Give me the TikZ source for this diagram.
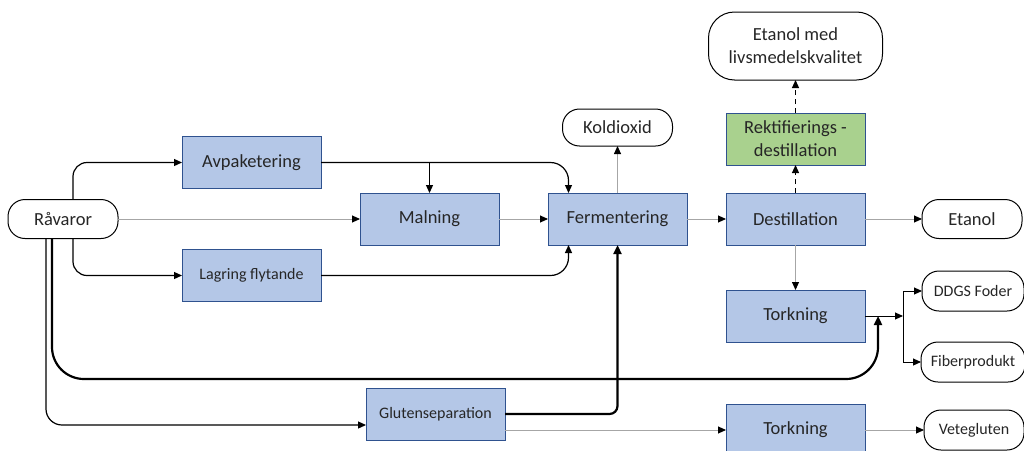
\documentclass[tikz,border=0pt]{standalone}
\usepackage{fontspec}
\setmainfont{Carlito}
\usetikzlibrary{positioning,arrows.meta}
\definecolor{ramblaa}{HTML}{2F528F}
\definecolor{fyllblaa}{HTML}{B4C7E7}
\definecolor{fyllgron}{HTML}{A9D18E}
\definecolor{ljusgra}{HTML}{A6A6A6}
\definecolor{textgra}{HTML}{262626}

\begin{document}
\begin{tikzpicture}[
  x=1pt, y=-1pt, font=\fontsize{18.5}{23}\selectfont, text=textgra,
  steg/.style={draw=ramblaa, fill=fyllblaa, line width=1pt, align=center,
               minimum width=139pt, minimum height=52pt, inner sep=2pt, outer sep=0pt},
  utfall/.style={draw=black, line width=1pt, rounded corners=17pt, align=center,
                 minimum height=39pt, inner sep=2pt, outer sep=0pt},
  liten/.style={font=\fontsize{16}{19}\selectfont},
  pil/.style={-{Triangle[length=8pt,width=7pt]}, line width=1.2pt},
  tunn/.style={-{Triangle[length=8pt,width=7pt,color=black]}, line width=0.9pt, ljusgra},
  tjock/.style={-{Triangle[length=9pt,width=8pt]}, line width=2.2pt},
  streckad/.style={pil, dash pattern=on 5pt off 4pt}
]
  \useasboundingbox (0,0) rectangle (1024,450);
  \node[utfall, minimum width=110pt] (rav) at (63,219) {Råvaror};
  \node[steg] (avp) at (251.5,162.5) {Avpaketering};
  \node[steg, liten, below=61pt of avp] (lag) {Lagring flytande};
  \node[steg, right=242pt of rav] (maln) {Malning};
  \node[steg, right=49pt of maln] (ferm) {Fermentering};
  \node[utfall, minimum width=110pt, minimum height=37pt, above=47pt of ferm] (kol) {Koldioxid};
  \node[steg, right=39pt of ferm] (dest) {Destillation};
  \node[steg, fill=fyllgron, above=28pt of dest] (rekt) {Rektifierings -\\destillation};
  \node[utfall, minimum width=174pt, minimum height=68pt, rounded corners=26pt, above=33pt of rekt] (etmed) {Etanol med\\livsmedelskvalitet};
  \node[utfall, minimum width=100pt, right=57pt of dest] (etan) {Etanol};
  \node[steg, below=45pt of dest] (tork1) {Torkning};
  \node[utfall, liten, minimum width=102pt, minimum height=40pt, right=57pt of tork1, yshift=25pt] (ddgs) {DDGS Foder};
  \node[utfall, liten, minimum width=104pt, minimum height=40pt, below=31pt of ddgs] (fiber) {Fiberprodukt};
  \node[steg, liten] (glut) at (435.5,414) {Glutenseparation};
  \node[steg, below=62pt of tork1] (tork2) {Torkning};
  \node[utfall, liten, minimum width=100pt, minimum height=40pt, right=59pt of tork2] (vete) {Vetegluten};

  \coordinate (samman) at (878,316);
  \coordinate (delning) at (903,316);
  \coordinate (botten) at (878,379);

  % fran ravaror
  \draw[pil, rounded corners=14pt] ([xshift=10pt]rav.north) |- (avp);
  \draw[pil, rounded corners=14pt] ([xshift=10pt]rav.south) |- (lag);
  \draw[tunn] (rav) -- (maln);
  \draw[tjock, rounded corners=32pt] ([xshift=-11pt]rav.south) |- (botten) -- (samman);
  \draw[pil, rounded corners=16pt] ([xshift=-17pt]rav.south) |- ([yshift=-11pt]glut.west);
  % till fermentering
  \draw[pil] (avp.east) -| (maln);
  \draw[pil, rounded corners=18pt] (avp.east) -| ([xshift=-49pt]ferm.north);
  \draw[pil, rounded corners=18pt] (lag.east) -| ([xshift=-49pt]ferm.south);
  \draw[tunn] (maln) -- (ferm);
  \draw[tjock, rounded corners=8pt] (glut.east) -| (ferm.south);
  \draw[tunn] (ferm) -- (kol);
  \draw[tunn] (ferm) -- (dest);
  % destillation
  \draw[streckad] (dest) -- (rekt);
  \draw[streckad] (rekt) -- (etmed);
  \draw[tunn] (dest) -- (etan);
  \draw[tunn] (dest) -- (tork1);
  \draw[pil, line width=0.9pt] (tork1) -- (delning);
  \draw[pil, line width=0.9pt] (delning) |- (ddgs);
  \draw[pil, line width=0.9pt] (delning) |- (fiber);
  % gluten
  \draw[tunn] (glut.east |- tork2) -- (tork2);
  \draw[tunn] (tork2) -- (vete);
\end{tikzpicture}
\end{document}
